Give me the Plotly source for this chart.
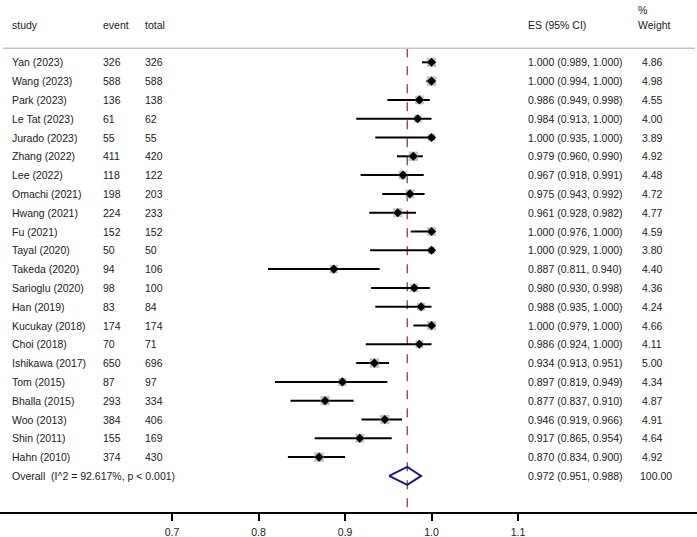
import plotly.graph_objects as go

studies = ["Yan (2023)", "Wang (2023)", "Park (2023)", "Le Tat (2023)", "Jurado (2023)",
           "Zhang (2022)", "Lee (2022)", "Omachi (2021)", "Hwang (2021)", "Fu (2021)",
           "Tayal (2020)", "Takeda (2020)", "Sarioglu (2020)", "Han (2019)", "Kucukay (2018)",
           "Choi (2018)", "Ishikawa (2017)", "Tom (2015)", "Bhalla (2015)", "Woo (2013)",
           "Shin (2011)", "Hahn (2010)"]
events = [326, 588, 136, 61, 55, 411, 118, 198, 224, 152, 50, 94, 98, 83, 174, 70, 650, 87, 293, 384, 155, 374]
totals = [326, 588, 138, 62, 55, 420, 122, 203, 233, 152, 50, 106, 100, 84, 174, 71, 696, 97, 334, 406, 169, 430]
es = [1.000, 1.000, 0.986, 0.984, 1.000, 0.979, 0.967, 0.975, 0.961, 1.000, 1.000, 0.887, 0.980, 0.988,
      1.000, 0.986, 0.934, 0.897, 0.877, 0.946, 0.917, 0.870]
lo = [0.989, 0.994, 0.949, 0.913, 0.935, 0.960, 0.918, 0.943, 0.928, 0.976, 0.929, 0.811, 0.930, 0.935,
      0.979, 0.924, 0.913, 0.819, 0.837, 0.919, 0.865, 0.834]
hi = [1.000, 1.000, 0.998, 1.000, 1.000, 0.990, 0.991, 0.992, 0.982, 1.000, 1.000, 0.940, 0.998, 1.000,
      1.000, 1.000, 0.951, 0.949, 0.910, 0.966, 0.954, 0.900]
weights = [4.86, 4.98, 4.55, 4.00, 3.89, 4.92, 4.48, 4.72, 4.77, 4.59, 3.80, 4.40, 4.36, 4.24,
           4.66, 4.11, 5.00, 4.34, 4.87, 4.91, 4.64, 4.92]

overall_es = 0.972
overall_lo = 0.951
overall_hi = 0.988
overall_weight = 100.00
overall_label = "Overall\u00a0\u00a0(I^2 = 92.617%, p < 0.001)"

x_ticks = [0.7, 0.8, 0.9, 1.0, 1.1]
x_tick_labels = ["0.7", "0.8", "0.9", "1.0", "1.1"]

W, H = 697, 537
FONT = "Liberation Sans, Arial, sans-serif"
TXT = "#1a1a1a"

rows = list(range(len(studies)))
overall_row = len(studies)

# pixel -> data mapping
PX0, PXSTEP = 62.3, 18.8     # row 0 centre, row spacing
BOT = 512
y_top = -PX0 / PXSTEP
y_bot = (BOT - PX0) / PXSTEP
x_lo = 0.7 - 172 / 865
x_hi = 0.7 + (W - 172) / 865

def prow(py):
    return (py - PX0) / PXSTEP

fig = go.Figure()

# CI lines
cx, cy = [], []
for r, a, b in zip(rows, lo, hi):
    cx += [a, b, None]
    cy += [r, r, None]
fig.add_trace(go.Scatter(x=cx, y=cy, mode="lines", line=dict(color="black", width=2),
                         hoverinfo="skip", showlegend=False))

# weight squares
fig.add_trace(go.Scatter(x=es, y=rows, mode="markers",
                         marker=dict(symbol="square", color="#aaaaaa",
                                     size=[1.9 * w for w in weights], line=dict(width=0)),
                         showlegend=False))
# point estimates
fig.add_trace(go.Scatter(x=es, y=rows, mode="markers",
                         marker=dict(symbol="diamond", color="black", size=7),
                         showlegend=False))

# overall diamond
dh = 0.48
fig.add_trace(go.Scatter(x=[overall_lo, overall_es, overall_hi, overall_es, overall_lo],
                         y=[overall_row, overall_row - dh, overall_row, overall_row + dh, overall_row],
                         mode="lines", line=dict(color="#1c1c80", width=2),
                         showlegend=False))

# dashed overall line
fig.add_shape(type="line", x0=overall_es, x1=overall_es, y0=prow(48.3), y1=y_bot,
              xref="x", yref="y", line=dict(color="#9a3a3a", width=1.3, dash="dash"), layer="below")

# header separator
fig.add_shape(type="line", x0=3 / W, x1=695 / W, y0=prow(48.3), y1=prow(48.3),
              xref="paper", yref="y", line=dict(color="#c4c4c4", width=1.5))

def ann(px, ry, text):
    fig.add_annotation(x=(px - 2) / W, y=ry, xref="paper", yref="y", text=text, showarrow=False,
                       xanchor="left", yanchor="middle", font=dict(family=FONT, size=10.5, color=TXT))

# headers
hy = prow(25)
ann(12, hy, "study")
ann(103, hy, "event")
ann(145, hy, "total")
ann(528, hy, "ES (95% CI)")
ann(638, hy, "Weight")
ann(638, prow(10), "%")

for r in rows:
    ann(12, r, studies[r])
    ann(103, r, str(events[r]))
    ann(145, r, str(totals[r]))
    ann(528, r, f"{es[r]:.3f} ({lo[r]:.3f}, {hi[r]:.3f})")
    ann(642, r, f"{weights[r]:.2f}")

ann(12, overall_row, overall_label)
ann(528, overall_row, f"{overall_es:.3f} ({overall_lo:.3f}, {overall_hi:.3f})")
ann(640, overall_row, f"{overall_weight:.2f}")

fig.update_layout(
    width=W, height=H,
    margin=dict(l=0, r=0, t=0, b=H - BOT),
    plot_bgcolor="white", paper_bgcolor="white",
    font=dict(family=FONT, size=10.5, color=TXT),
    xaxis=dict(range=[x_lo, x_hi], tickvals=x_ticks, ticktext=x_tick_labels,
               showgrid=False, zeroline=False, showline=True, linecolor="black", linewidth=1.5,
               ticks="outside", ticklen=7, tickwidth=1.5, tickcolor="black", ticklabelstandoff=3,
               tickfont=dict(family=FONT, size=10.5, color=TXT), fixedrange=True),
    yaxis=dict(range=[y_bot, y_top], visible=False, showgrid=False, zeroline=False, fixedrange=True),
)

fig.write_html("out.html", config={"displayModeBar": False},
               post_script="document.body.style.margin='0';document.body.style.overflow='hidden';")
